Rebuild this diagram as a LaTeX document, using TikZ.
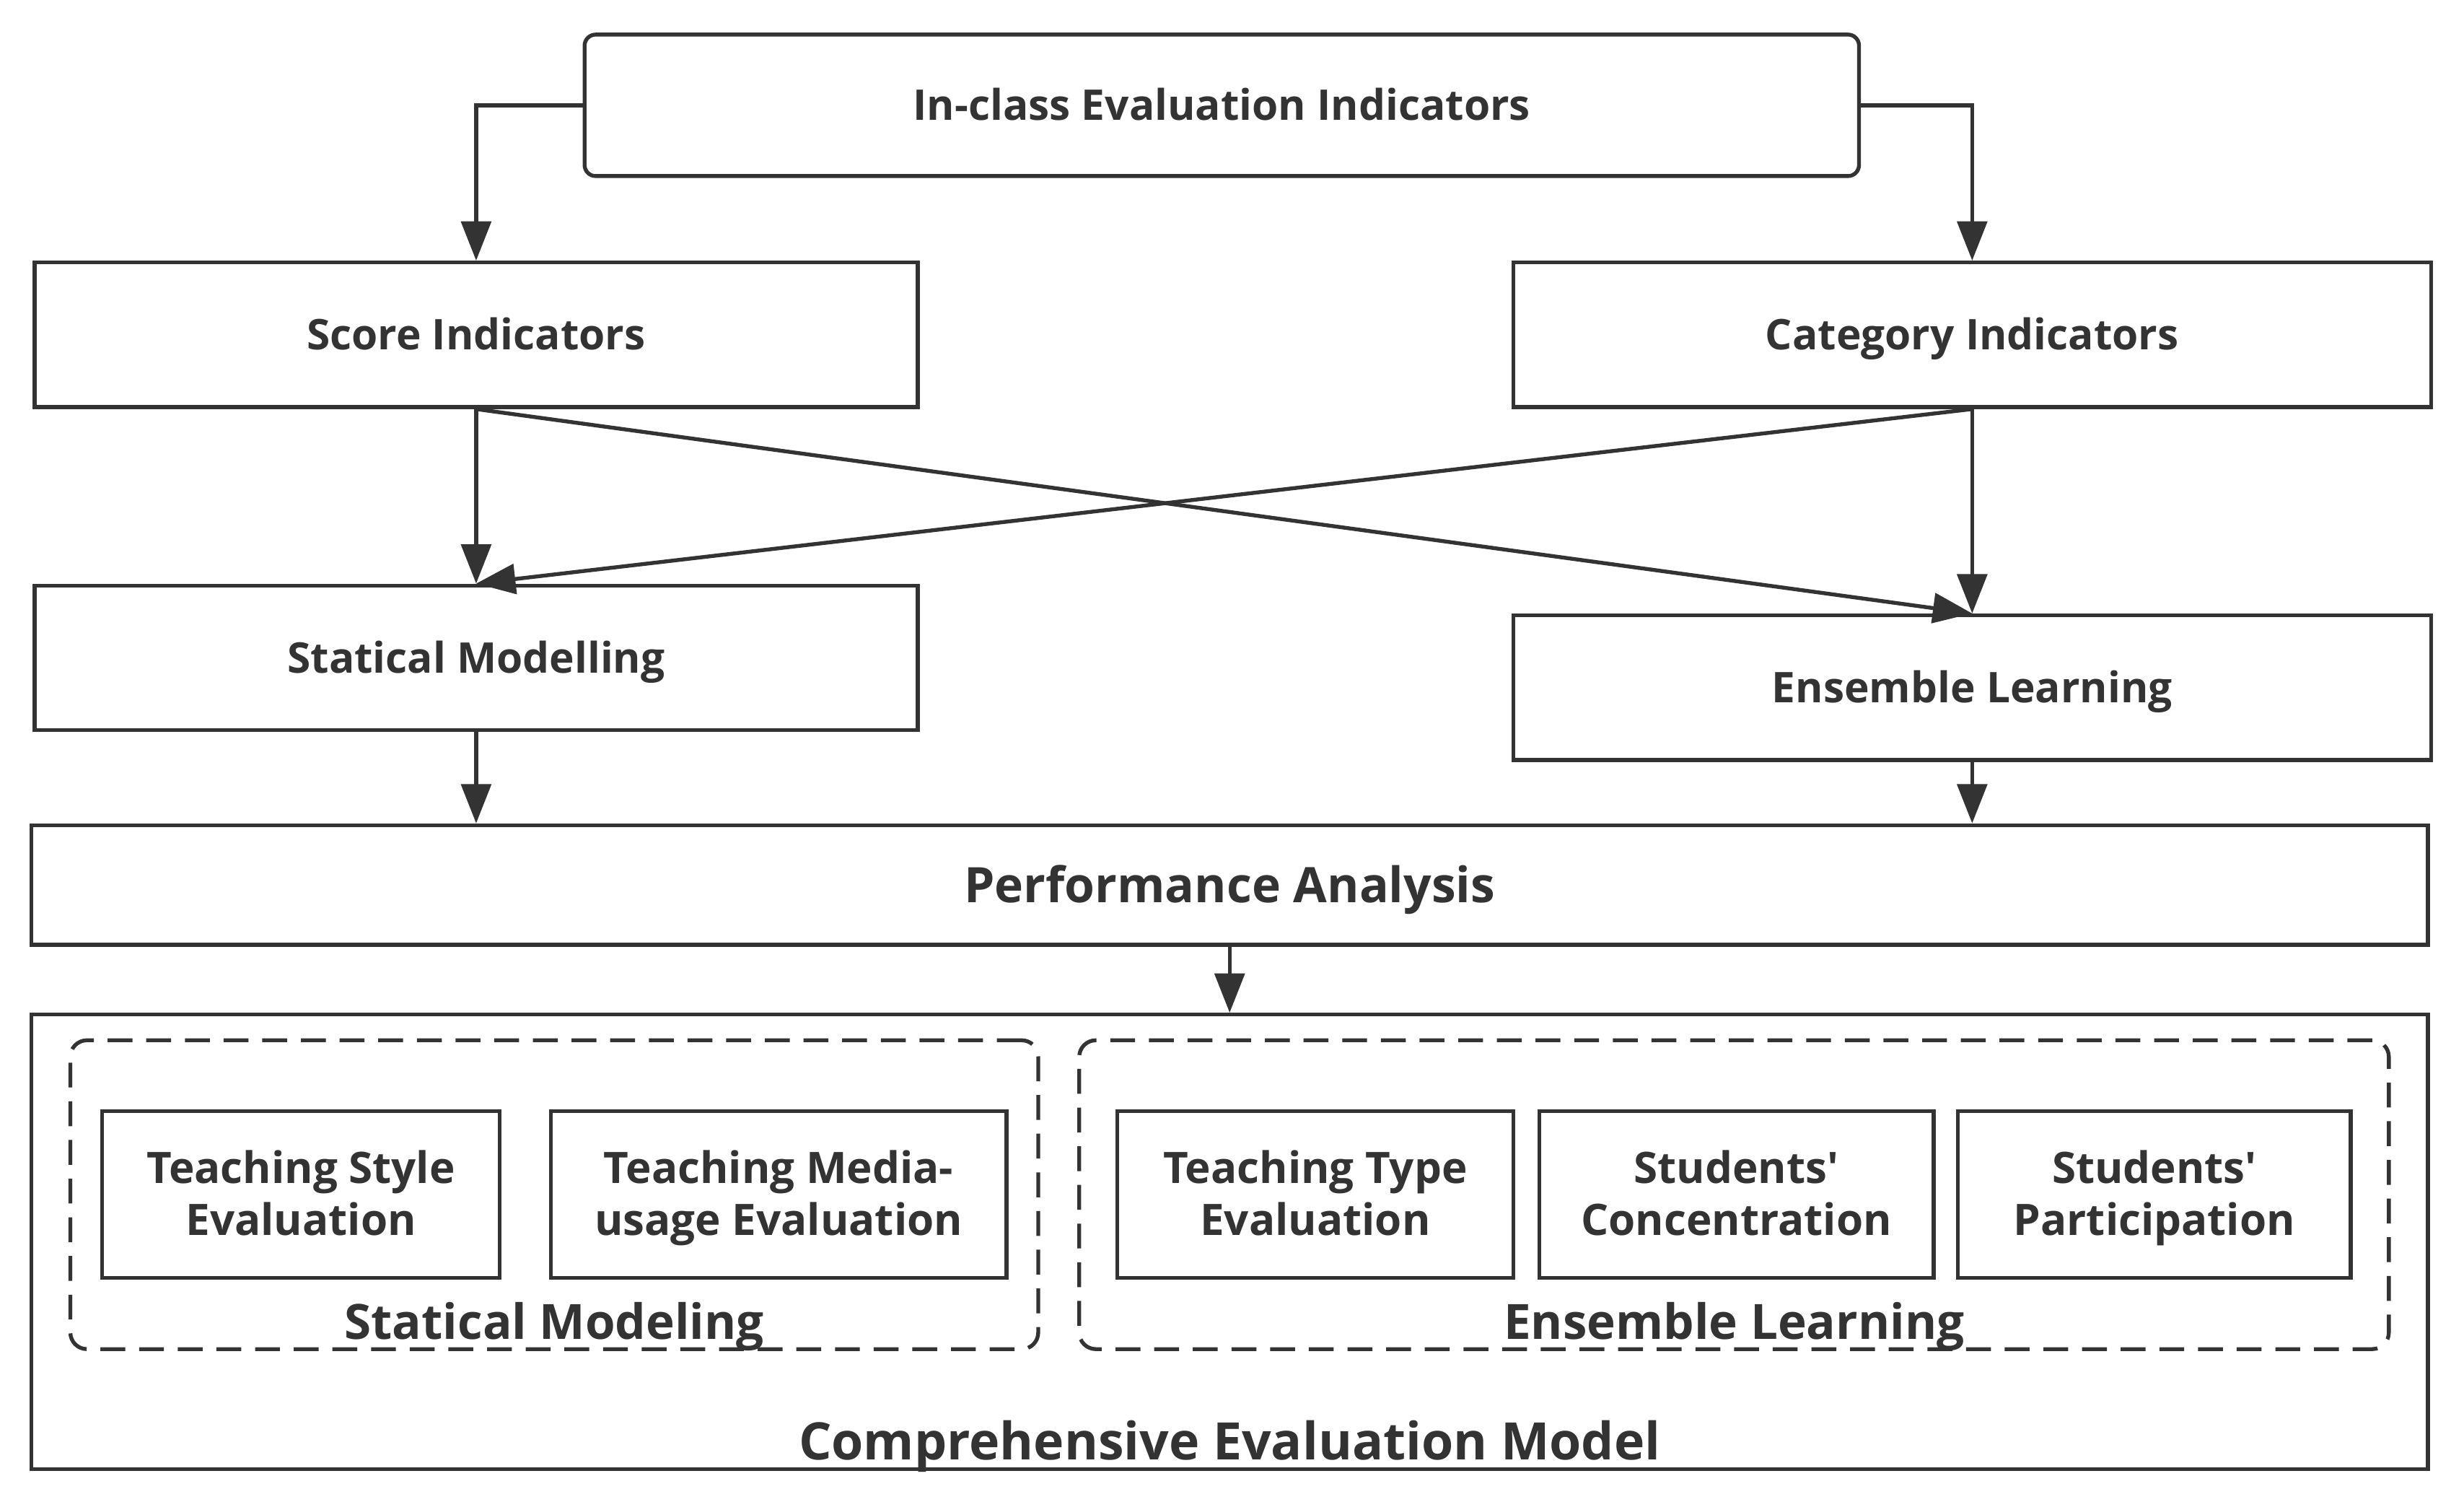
\documentclass[tikz,border=0pt]{standalone}
\usepackage{fontspec}
\setmainfont{Open Sans}
\usepackage{tikz}
\usetikzlibrary{arrows.meta, positioning, fit, calc}
\definecolor{ink}{HTML}{333333}
\tikzstyle{baseblock} = [rectangle, draw=ink, line width=1.4pt, text=ink, text centered]
\tikzstyle{block} = [baseblock, minimum height=1.84cm, text height=10.9pt, text depth=0pt,
    font=\fontsize{15.3}{18}\selectfont\bfseries]
\tikzstyle{topblock} = [block, rounded corners=4pt, minimum width=16.22cm, minimum height=1.8cm]
\tikzstyle{wideblock} = [block, minimum width=30.5cm]
\tikzstyle{evalblock} = [baseblock, minimum height=2.12cm, align=center,
    text height=29.6pt, text depth=0pt, font=\fontsize{15.7}{18.8}\selectfont\bfseries]
\tikzstyle{group} = [draw=ink, line width=1.4pt, dashed, dash pattern=on 9pt off 5pt,
    rounded corners=6pt, inner xsep=0.38cm, inner ysep=0.88cm]
\tikzstyle{grouplabel} = [text=ink, inner sep=0pt, anchor=base,
    font=\fontsize{17.6}{20}\selectfont\bfseries]
\tikzstyle{arrow} = [draw=ink, line width=1.4pt, -{Triangle[length=0.5cm, width=0.38cm]}]

\begin{document}
\begin{tikzpicture}
  \useasboundingbox (0,0) rectangle (31.36,-18.94);
  % Indicators
  \node[topblock](in) at (15.55,-1.34){In-class Evaluation Indicators};
  \node[block, minimum width=11.24cm](score) at (6.06,-4.26){Score Indicators};
  \node[block, minimum width=11.68cm](cat) at (25.10,-4.26){Category Indicators};
  % Methods
  \node[block, minimum width=11.24cm, below=2.22cm of score](stat){Statical Modelling};
  \node[block, minimum width=11.68cm, below=2.60cm of cat](ens){Ensemble Learning};
  \node[wideblock, minimum height=1.52cm, text height=12.6pt,
    font=\fontsize{17.7}{20}\selectfont\bfseries](perf) at (15.65,-11.26){Performance Analysis};
  % Model
  \node[wideblock, minimum height=5.78cm, below=0.84cm of perf](comp){};
  \node[evalblock, minimum width=5.06cm](tse) at (3.83,-15.20){Teaching Style\\Evaluation};
  \node[evalblock, minimum width=5.8cm, right=0.6cm of tse](tme){Teaching Media-\\usage Evaluation};
  \node[evalblock, minimum width=5.04cm](tte) at (16.74,-15.20){Teaching Type\\Evaluation};
  \node[evalblock, minimum width=5.02cm, right=0.28cm of tte](sc){Students\textquotesingle\\Concentration};
  \node[evalblock, minimum width=5.0cm, right=0.26cm of sc](sp){Students\textquotesingle\\Participation};
  \node[group, fit=(tse)(tme)](sm){};
  \node[group, inner xsep=0.46cm, fit=(tte)(sc)(sp)](el){};
  \node[grouplabel](smlabel) at ([yshift=0.15cm]sm.south){Statical Modeling};
  \node[grouplabel](ellabel) at ([yshift=0.15cm]el.south){Ensemble Learning};
  \node[grouplabel, font=\fontsize{18.7}{21}\selectfont\bfseries](complabel)
    at ([yshift=0.14cm]comp.south){Comprehensive Evaluation Model};

  % Arrows
  \draw[arrow](in.west) -| (score.north);
  \draw[arrow](in.east) -| (cat.north);
  \draw[arrow](score.south) -- (stat.north);
  \draw[arrow](score.south) -- (ens.north);
  \draw[arrow](cat.south) -- (stat.north);
  \draw[arrow](cat.south) -- (ens.north);
  \draw[arrow](stat.south) -- (stat.south |- perf.north);
  \draw[arrow](ens.south) -- (ens.south |- perf.north);
  \draw[arrow](perf.south) -- (perf.south |- comp.north);
\end{tikzpicture}
\end{document}
